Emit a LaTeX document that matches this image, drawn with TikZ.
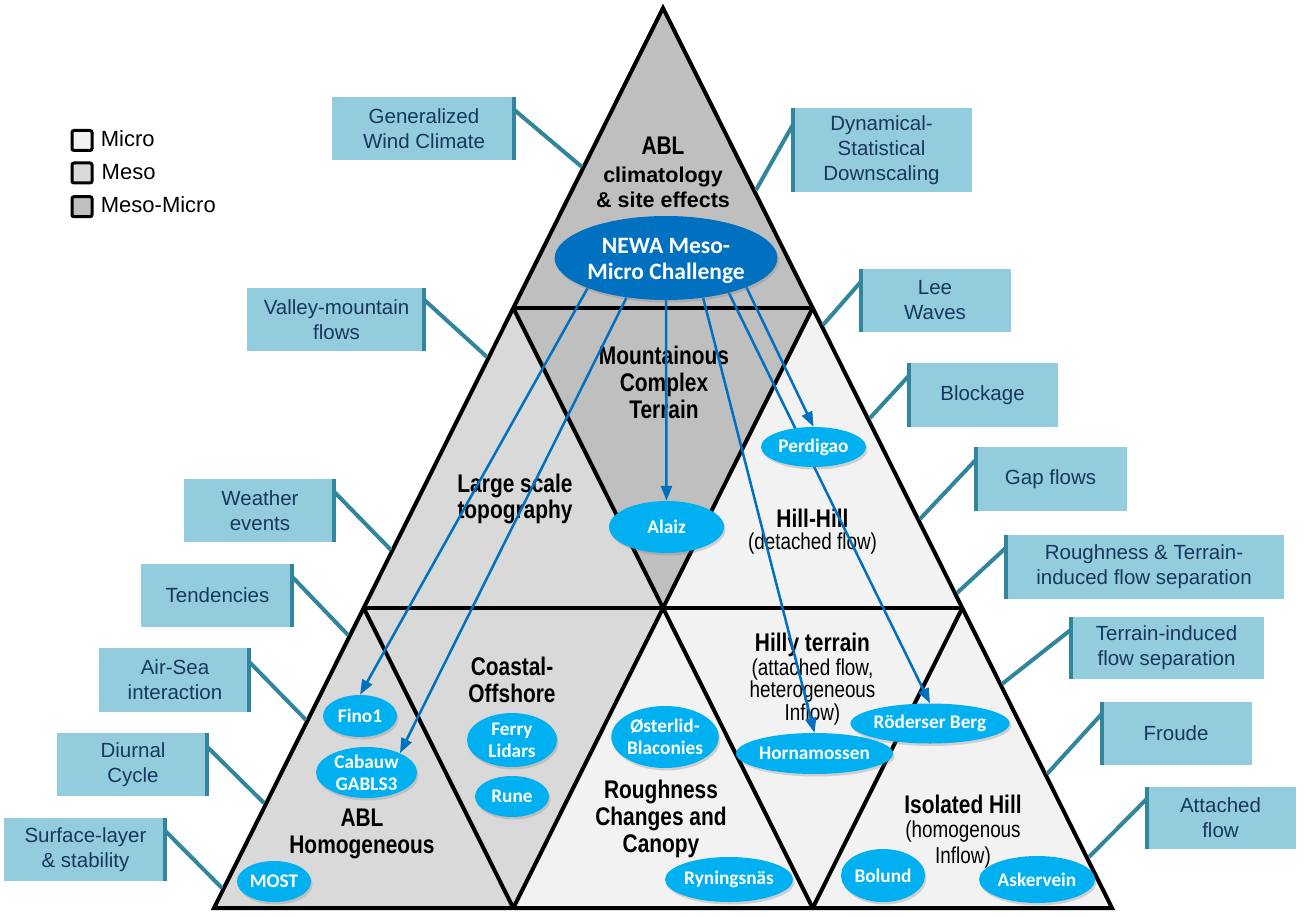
\documentclass[tikz,border=0pt]{standalone}
\usepackage{fontspec}
\setmainfont{Liberation Sans}
\newfontfamily\narrowfnt[FakeStretch=0.82]{Liberation Sans}
\newfontfamily\calibfnt{Carlito}
\usetikzlibrary{arrows.meta,shapes.geometric,shadows,calc}
\definecolor{micro}{HTML}{F2F2F2}
\definecolor{meso}{HTML}{D9D9D9}
\definecolor{mesomicro}{HTML}{BFBFBF}
\definecolor{ellc}{HTML}{00B0F0}
\definecolor{newab}{HTML}{0070C0}
\definecolor{arrc}{HTML}{0070C0}
\definecolor{cfill}{HTML}{93CDDD}
\definecolor{cbordc}{HTML}{31859C}
\definecolor{ctext}{HTML}{17375E}
\newcommand\trbig{\narrowfnt\bfseries\fontsize{25.5}{27}\selectfont}
\newcommand\trsmall{\narrowfnt\fontsize{23}{24}\selectfont}
\newcommand\trtop{\bfseries\fontsize{21.5}{27}\selectfont}
\newcommand\callfnt{\fontsize{20.5}{25}\selectfont}
\newcommand\ellfnt{\calibfnt\bfseries\fontsize{19.3}{22}\selectfont}
\newcommand\newafnt{\calibfnt\bfseries\fontsize{23.5}{26}\selectfont}
\newcommand\legfnt{\fontsize{22}{26}\selectfont}
\pgfdeclarelayer{bgl}
\pgfdeclarelayer{midl}
\pgfsetlayers{bgl,midl,main}
\begin{document}
\begin{tikzpicture}[x=1pt,y=-1pt,
  gridline/.style={draw=black,line width=4pt,line join=miter},
  ell/.style={ellipse, fill=ellc, text=white, inner sep=0pt, align=center, font=\ellfnt,
    drop shadow={shadow xshift=1.5pt,shadow yshift=-2.5pt,opacity=0.3}},
  arr/.style={draw=arrc, line width=2.5pt, -{Triangle[length=15pt,width=11pt]}},
  callout/.style={fill=cfill, text=ctext, font=\callfnt, align=center, inner sep=0pt},
  cbord/.style={draw=cbordc, line width=4.5pt},
  leader/.style={draw=cbordc, line width=4pt},
  lblb/.style={anchor=base, inner sep=0pt, font=\trbig},
  lbls/.style={anchor=base, inner sep=0pt, font=\trsmall},
  lbltop/.style={anchor=base, inner sep=0pt, font=\trtop},
  legbox/.style={draw=black, line width=3pt, rounded corners=2pt, minimum size=20pt, inner sep=0pt},
  legtxt/.style={anchor=base west, inner sep=0pt, font=\legfnt},
]
\useasboundingbox (0,0) rectangle (1306,917);
\begin{pgfonlayer}{bgl}
\fill[white] (0,0) rectangle (1306,917);
\coordinate (A) at (663,8);
\coordinate (B0) at (214,908);
\coordinate (B3) at (1112,908);
\coordinate (L1) at ($(A)!1/3!(B0)$);
\coordinate (R1) at ($(A)!1/3!(B3)$);
\coordinate (L2) at ($(A)!2/3!(B0)$);
\coordinate (R2) at ($(A)!2/3!(B3)$);
\coordinate (M2) at ($(L2)!0.5!(R2)$);
\coordinate (B1) at ($(B0)!1/3!(B3)$);
\coordinate (B2) at ($(B0)!2/3!(B3)$);
\fill[mesomicro] (A) -- (L1) -- (R1) -- cycle;
\fill[meso] (L1) -- (L2) -- (M2) -- cycle;
\fill[mesomicro] (L1) -- (R1) -- (M2) -- cycle;
\fill[micro] (R1) -- (M2) -- (R2) -- cycle;
\fill[meso] (L2) -- (B0) -- (B1) -- cycle;
\fill[meso] (L2) -- (M2) -- (B1) -- cycle;
\fill[micro] (M2) -- (B1) -- (B2) -- cycle;
\fill[micro] (M2) -- (R2) -- (B2) -- cycle;
\fill[micro] (R2) -- (B2) -- (B3) -- cycle;
\draw[gridline] (A) -- (B0) -- (B3) -- cycle;
\draw[gridline] (L1) -- (R1);
\draw[gridline] (L2) -- (R2);
\draw[gridline] (L1) -- (B2);
\draw[gridline] (R1) -- (B1);
\draw[gridline] (L2) -- (B1);
\draw[gridline] (R2) -- (B2);
% labels
\node[lblb] (t1) at (663,155) {ABL};
\node[lbltop] (t2) at (663,183) {climatology};
\node[lbltop] (t3) at (663,208) {\& site effects};
\node[lblb] (m1) at (664,364) {Mountainous};
\node[lblb] (m2) at (664,391) {Complex};
\node[lblb] (m3) at (664,418) {Terrain};
\node[lblb] (ls1) at (515,492) {Large scale};
\node[lblb] (ls2) at (515,518) {topography};
\node[lblb] (hh1) at (812.5,527) {Hill-Hill};
\node[lbls] (hh2) at (812.5,549) {(detached flow)};
\node[lblb] (co1) at (512,675) {Coastal-};
\node[lblb] (co2) at (512,702) {Offshore};
\node[lblb] (ah1) at (362,826) {ABL};
\node[lblb] (ah2) at (362,853) {Homogeneous};
\node[lblb] (rc1) at (661,798) {Roughness};
\node[lblb] (rc2) at (661,825) {Changes and};
\node[lblb] (rc3) at (661,852) {Canopy};
\node[lblb] (ht1) at (812.5,651) {Hilly terrain};
\node[lbls] (ht2) at (812.5,675) {(attached flow,};
\node[lbls] (ht3) at (812.5,697) {heterogeneous};
\node[lbls] (ht4) at (812.5,720) {Inflow)};
\node[lblb] (ih1) at (963,813) {Isolated Hill};
\node[lbls] (ih2) at (963,837) {(homogenous};
\node[lbls] (ih3) at (963,863) {Inflow)};
\end{pgfonlayer}
% ellipses
\node[ell, fill=newab, font=\newafnt, minimum width=222pt, minimum height=84pt] (newa) at (666,258) {\rule{0pt}{21pt}NEWA Meso-\\Micro Challenge};
\node[ell, minimum width=74pt, minimum height=42pt] (fino1) at (360,716) {Fino1};
\node[ell, minimum width=101pt, minimum height=51pt] (cabauw) at (366.5,772.5) {Cabauw\\GABLS3};
\node[ell, minimum width=74pt, minimum height=41pt] (most) at (274,881.5) {MOST};
\node[ell, minimum width=90pt, minimum height=54pt] (ferry) at (512,740) {Ferry\\Lidars};
\node[ell, minimum width=74pt, minimum height=41pt] (rune) at (512,796.5) {Rune};
\node[ell, minimum width=106pt, minimum height=62pt] (oster) at (665,737) {Østerlid-\\Blaconies};
\node[ell, minimum width=128pt, minimum height=45pt] (ryn) at (729,879.5) {Ryningsnäs};
\node[ell, minimum width=157pt, minimum height=41pt] (horna) at (814.5,753.5) {Hornamossen};
\node[ell, minimum width=159pt, minimum height=40pt] (roder) at (930,723.5) {Röderser Berg};
\node[ell, minimum width=84pt, minimum height=53pt] (bolund) at (883,875.5) {Bolund};
\node[ell, minimum width=116pt, minimum height=47pt] (asker) at (1037,879.5) {Askervein};
\node[ell, minimum width=105pt, minimum height=40pt] (perdi) at (813.5,447) {Perdigao};
\node[ell, minimum width=115pt, minimum height=52pt] (alaiz) at (666.5,527) {Alaiz};
\begin{pgfonlayer}{midl}
\draw[arr] (newa.-159) -- (fino1.north);
\draw[arr] (newa.-135) -- (cabauw.30);
\draw[arr] (newa.south) -- (alaiz.north);
\draw[arr] (newa.-47) -- (horna.north);
\draw[arr] (newa.-29) -- (roder.north);
\draw[arr] (newa.-20.5) -- (perdi.north);
\end{pgfonlayer}
% legend
\node[legbox, fill=micro] (lg1) at (82,140.5) {};
\node[legbox, fill=meso] (lg2) at (82,173) {};
\node[legbox, fill=mesomicro] (lg3) at (82,206.7) {};
\node[legtxt] (lg1t) at (100.7,146.7) {Micro};
\node[legtxt] (lg2t) at (101.5,179.3) {Meso};
\node[legtxt] (lg3t) at (100.7,212.7) {Meso-Micro};
% left callouts
\node[callout, minimum width=184pt, minimum height=63pt] (gwc) at (424,128.5) {Generalized\\Wind Climate};
\node[callout, minimum width=179pt, minimum height=63pt] (vmf) at (336.5,319.5) {Valley-mountain\\flows};
\node[callout, minimum width=152pt, minimum height=63pt] (wev) at (260,510.5) {Weather\\events};
\node[callout, minimum width=153pt, minimum height=63pt] (tend) at (217.5,595.5) {Tendencies};
\node[callout, minimum width=152pt, minimum height=64pt] (airsea) at (175,680) {Air-Sea\\interaction};
\node[callout, minimum width=152pt, minimum height=63pt] (diur) at (133,764.5) {Diurnal\\Cycle};
\node[callout, minimum width=163pt, minimum height=63pt] (surf) at (85.5,849.5) {Surface-layer\\\& stability};
\foreach \n/\dy/\ex/\ey in {gwc/13/582/167, vmf/12/487/357, wev/13/391/550, tend/13/348/635, airsea/14/306/720, diur/14/264/803, surf/13/222/888}{
  \draw[cbord] ([xshift=-2.25pt]\n.north east) -- ([xshift=-2.25pt]\n.south east);
  \coordinate (\n e) at (\ex,\ey);
  \draw[leader] ([xshift=-2pt,yshift=-\dy pt]\n.north east) -- (\n e);
}
% right callouts
\node[callout, minimum width=181pt, minimum height=84pt] (dsd) at (881.5,150) {Dynamical-\\Statistical\\Downscaling};
\node[callout, minimum width=152pt, minimum height=63pt] (lee) at (935,300.5) {Lee\\Waves};
\node[callout, minimum width=151pt, minimum height=64pt] (block) at (982.5,395) {Blockage};
\node[callout, minimum width=153pt, minimum height=64pt] (gap) at (1050.5,479) {Gap flows};
\node[callout, minimum width=280pt, minimum height=64pt] (rough) at (1144,567) {Roughness \& Terrain-\\induced flow separation};
\node[callout, minimum width=195pt, minimum height=62pt] (tif) at (1166.5,648) {Terrain-induced\\flow separation};
\node[callout, minimum width=152pt, minimum height=63pt] (froude) at (1176,733.5) {Froude};
\node[callout, minimum width=151pt, minimum height=62pt] (att) at (1220.5,818) {Attached\\flow};
\foreach \n/\dy/\ex/\ey in {dsd/17/756/190, lee/13/823/325, block/13/870/418, gap/13/920/519, rough/13/957/593, tif/13/1002/684, froude/12/1047/774, att/12/1089/857}{
  \draw[cbord] ([xshift=2.25pt]\n.north west) -- ([xshift=2.25pt]\n.south west);
  \coordinate (\n e) at (\ex,\ey);
  \draw[leader] ([xshift=2pt,yshift=-\dy pt]\n.north west) -- (\n e);
}
\end{tikzpicture}
\end{document}
